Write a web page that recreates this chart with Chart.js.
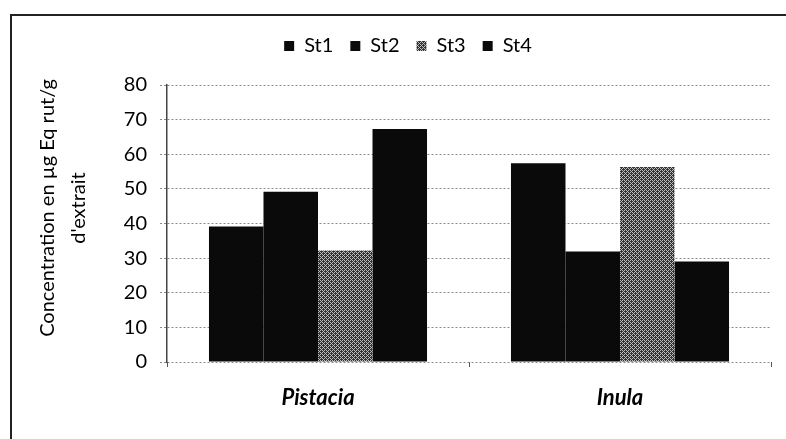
<!DOCTYPE html>
<html>
<head>
<meta charset="utf-8">
<script src="https://cdn.jsdelivr.net/npm/chart.js@4"></script>
<style>
  html, body { margin: 0; padding: 0; background: #fff; }
  #chart { display: block; }
</style>
</head>
<body>
<canvas id="chart" width="786" height="439"></canvas>
<script>
// Chart data
const categories = ['Pistacia', 'Inula'];
const seriesNames = ['St1', 'St2', 'St3', 'St4'];
const st1Values = [39.1, 57.4];
const st2Values = [49.2, 31.9];
const st3Values = [32.2, 56.3];
const st4Values = [67.3, 29.0];
const yTitleLines = ['Concentration en \u00b5g Eq rut/g', "d'extrait"];

// Halftone grey fill for St3
function makeHalftone() {
  const c = document.createElement('canvas');
  c.width = 4;
  c.height = 4;
  const g = c.getContext('2d');
  g.fillStyle = '#333';
  g.fillRect(0, 0, 4, 4);
  g.fillStyle = '#bdbdbd';
  for (let y = 0; y < 4; y++) {
    for (let x = 0; x < 4; x++) {
      if ((x + 3 * y) % 4 === 0 || (x + y) % 5 === 2) g.fillRect(x, y, 1, 1);
    }
  }
  return document.getElementById('chart').getContext('2d').createPattern(c, 'repeat');
}

const halftone = makeHalftone();
const fills = ['#0a0a0a', '#0a0a0a', halftone, '#0a0a0a'];
const seriesValues = [st1Values, st2Values, st3Values, st4Values];

// Taller legend box so the plot starts lower
const legendSpace = {
  id: 'legendSpace',
  beforeInit(chart) {
    const fit = chart.legend.fit;
    chart.legend.fit = function () {
      fit.bind(chart.legend)();
      this.height = 66;
    };
  }
};

// Left/top frame and the two-line y title
const frameAndTitle = {
  id: 'frameAndTitle',
  afterDraw(chart) {
    const ctx = chart.ctx;
    ctx.save();
    ctx.strokeStyle = '#222';
    ctx.lineWidth = 2;
    ctx.beginPath();
    ctx.moveTo(11, 439);
    ctx.lineTo(11, 15);
    ctx.lineTo(786, 15);
    ctx.stroke();

    ctx.translate(48, 208);
    ctx.rotate(-Math.PI / 2);
    ctx.fillStyle = '#000';
    ctx.font = '20px Lato';
    ctx.textAlign = 'center';
    ctx.textBaseline = 'middle';
    yTitleLines.forEach((line, i) => ctx.fillText(line, 0, i * 31));
    ctx.restore();
  }
};

new Chart(document.getElementById('chart'), {
  type: 'bar',
  data: {
    labels: categories,
    datasets: seriesNames.map((name, i) => ({
      label: name,
      data: seriesValues[i],
      backgroundColor: fills[i],
      borderWidth: 0,
      categoryPercentage: 0.722,
      barPercentage: 1
    }))
  },
  options: {
    responsive: false,
    animation: false,
    layout: { padding: { left: 45, right: 15, top: 19, bottom: 17 } },
    plugins: {
      legend: {
        position: 'top',
        labels: {
          boxWidth: 10,
          boxHeight: 10,
          padding: 17,
          color: '#000',
          font: { family: 'Lato', size: 20 }
        }
      },
      tooltip: { enabled: false }
    },
    scales: {
      x: {
        grid: {
          offset: true,
          drawOnChartArea: false,
          drawTicks: true,
          tickLength: 5,
          color: '#555'
        },
        border: { display: false },
        ticks: {
          padding: 18,
          color: '#000',
          font: { family: 'Lato', size: 22, style: 'italic', weight: 'bold' }
        },
        afterFit(scale) { scale.height = 60; }
      },
      y: {
        min: 0,
        max: 80,
        ticks: {
          stepSize: 10,
          padding: 13,
          color: '#000',
          font: { family: 'Lato', size: 20 }
        },
        grid: {
          color: '#8a8a8a',
          lineWidth: 1,
          tickLength: 7,
          tickBorderDash: [2, 2]
        },
        border: { display: true, color: '#444', width: 1.5, dash: [2, 2] },
        afterFit(scale) { scale.width = 167 - 45; }
      }
    }
  },
  plugins: [legendSpace, frameAndTitle]
});
</script>
</body>
</html>
